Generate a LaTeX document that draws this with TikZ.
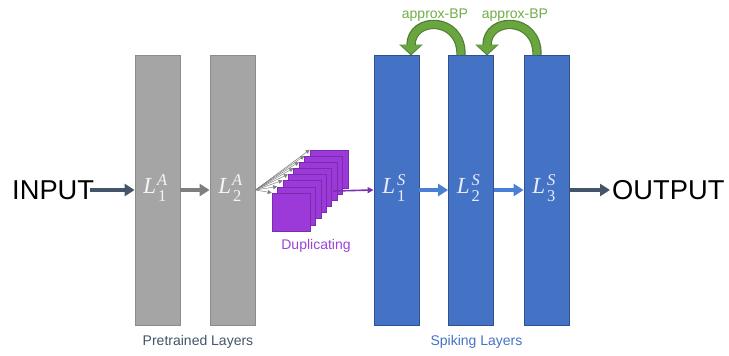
\documentclass[tikz,border=0pt]{standalone}
\usepackage{fontspec}
\setmainfont{Liberation Sans}
\newfontfamily\labserif{Liberation Serif}
\usetikzlibrary{arrows.meta}
\definecolor{grayfill}{HTML}{A5A5A5}
\definecolor{grayedge}{HTML}{8C8C8C}
\definecolor{bluefill}{HTML}{4472C4}
\definecolor{blueedge}{HTML}{2F528F}
\definecolor{bluearr}{HTML}{4A7FD6}
\definecolor{slate}{HTML}{44546A}
\definecolor{midgray}{HTML}{7F7F7F}
\definecolor{purplefill}{HTML}{9B3AD8}
\definecolor{purpleedge}{HTML}{7A2BAE}
\definecolor{purpletext}{HTML}{9A44D6}
\definecolor{purplearr}{HTML}{7A30B0}
\definecolor{greenfill}{HTML}{6AA640}
\definecolor{greenedge}{HTML}{507E32}
\definecolor{greentext}{HTML}{70AD47}
\newcommand{\layerlab}[2]{{\labserif\fontsize{23}{23}\selectfont\itshape L}\kern0.5pt\rlap{\raisebox{8pt}{\makebox[11pt][c]{\labserif\fontsize{16.5}{16.5}\selectfont\itshape #1}}}\raisebox{-7.5pt}{\makebox[11pt][c]{\labserif\fontsize{16.5}{16.5}\selectfont #2}}}
\begin{document}
\begin{tikzpicture}[x=1pt,y=-1pt,
  layerA/.style={draw=grayedge, fill=grayfill, minimum width=45pt, minimum height=270pt, inner sep=0pt, line width=0.8pt},
  layerS/.style={draw=blueedge, fill=bluefill, minimum width=45pt, minimum height=270pt, inner sep=0pt, line width=0.8pt},
  dupbox/.style={draw=purpleedge, fill=purplefill, minimum size=38pt, inner sep=0pt, line width=0.6pt},
  bigtext/.style={font=\fontsize{27.3}{30}\selectfont, text=black, inner sep=0pt},
  captext/.style={font=\fontsize{14}{16}\selectfont, inner sep=0pt},
  darkarrow/.style={draw=slate, line width=3.5pt, -{Triangle[width=12pt,length=10pt]}},
  grayarrow/.style={draw=midgray, line width=3.5pt, -{Triangle[width=12pt,length=10pt]}},
  bluearrow/.style={draw=bluearr, line width=3.5pt, -{Triangle[width=12pt,length=10pt]}},
  fanarrow/.style={draw=midgray, line width=0.5pt, -{Triangle[width=4pt,length=4pt]}},
  purplearrow/.style={draw=purplearr, line width=1.6pt, -{Triangle[width=6pt,length=6pt]}},
  greenoutline/.style={draw=greenedge, line width=9.4pt, -{Triangle[width=23pt,length=11pt]}},
  greenarrow/.style={draw=greenfill, line width=7pt, -{Triangle[width=20pt,length=9pt]}},
  greenlabel/.style={font=\fontsize{14}{16}\selectfont, text=greentext, inner sep=0pt}
]
\useasboundingbox (0,0) rectangle (729,356);

% layers
\node[layerA] (a1) at (157.5,190) {};
\node[layerA] (a2) at (232.5,190) {};
\node[layerS] (s1) at (396.5,190) {};
\node[layerS] (s2) at (471,190) {};
\node[layerS] (s3) at (546.5,190) {};
\node[inner sep=0pt, text=white!92!gray] (la1) at (155.5,188) {\layerlab{A}{1}};
\node[inner sep=0pt, text=white!92!gray] (la2) at (230.5,188) {\layerlab{A}{2}};
\node[inner sep=0pt, text=white!92!blue] (ls1) at (394.5,188) {\layerlab{S}{1}};
\node[inner sep=0pt, text=white!92!blue] (ls2) at (469,188) {\layerlab{S}{2}};
\node[inner sep=0pt, text=white!92!blue] (ls3) at (544.5,188) {\layerlab{S}{3}};

% input / output
\node[bigtext, anchor=west] (in) at (12,190) {INPUT};
\node[bigtext, anchor=west] (out) at (612,190) {OUTPUT};
\coordinate (instart) at (90,190);
\coordinate (outend) at (610,190);
\draw[darkarrow] (instart) -- (a1.west);
\draw[grayarrow] (a1.east) -- (a2.west);
\draw[bluearrow] (s1.east) -- (s2.west);
\draw[bluearrow] (s2.east) -- (s3.west);
\draw[darkarrow] (s3.east) -- (outend);

% duplicating stack
\foreach \i in {7,6,...,0} {
  \node[dupbox] (d\i) at ({291+5.43*\i},{212-6.14*\i}) {};
}
\foreach \i in {0,...,7} {
  \draw[fanarrow] (a2.east) -- (d\i.north west);
}
\coordinate (dupout) at (333,191);
\draw[purplearrow] (dupout) -- (s1.west);
\node[captext, text=purpletext] (duplab) at (316,246) {Duplicating};

% approx-BP arrows
\coordinate (g1s) at (461,55);
\coordinate (g1e) at (411,55.5);
\coordinate (g1f) at (411,54);
\coordinate (g2s) at (537,55);
\coordinate (g2e) at (487,55.5);
\coordinate (g2f) at (487,54);
\draw[greenoutline] (g1s) .. controls (462,16) and (411,16) .. (g1e);
\draw[greenarrow] (g1s) .. controls (462,16) and (411,16) .. (g1f);
\draw[greenoutline] (g2s) .. controls (538,16) and (487,16) .. (g2e);
\draw[greenarrow] (g2s) .. controls (538,16) and (487,16) .. (g2f);
\node[greenlabel] (bp1) at (435,15) {approx-BP};
\node[greenlabel] (bp2) at (515,15) {approx-BP};

% captions
\node[captext, text=slate] (pre) at (198,342) {Pretrained Layers};
\node[captext, text=bluefill] (spk) at (476.5,342) {Spiking Layers};
\end{tikzpicture}
\end{document}
